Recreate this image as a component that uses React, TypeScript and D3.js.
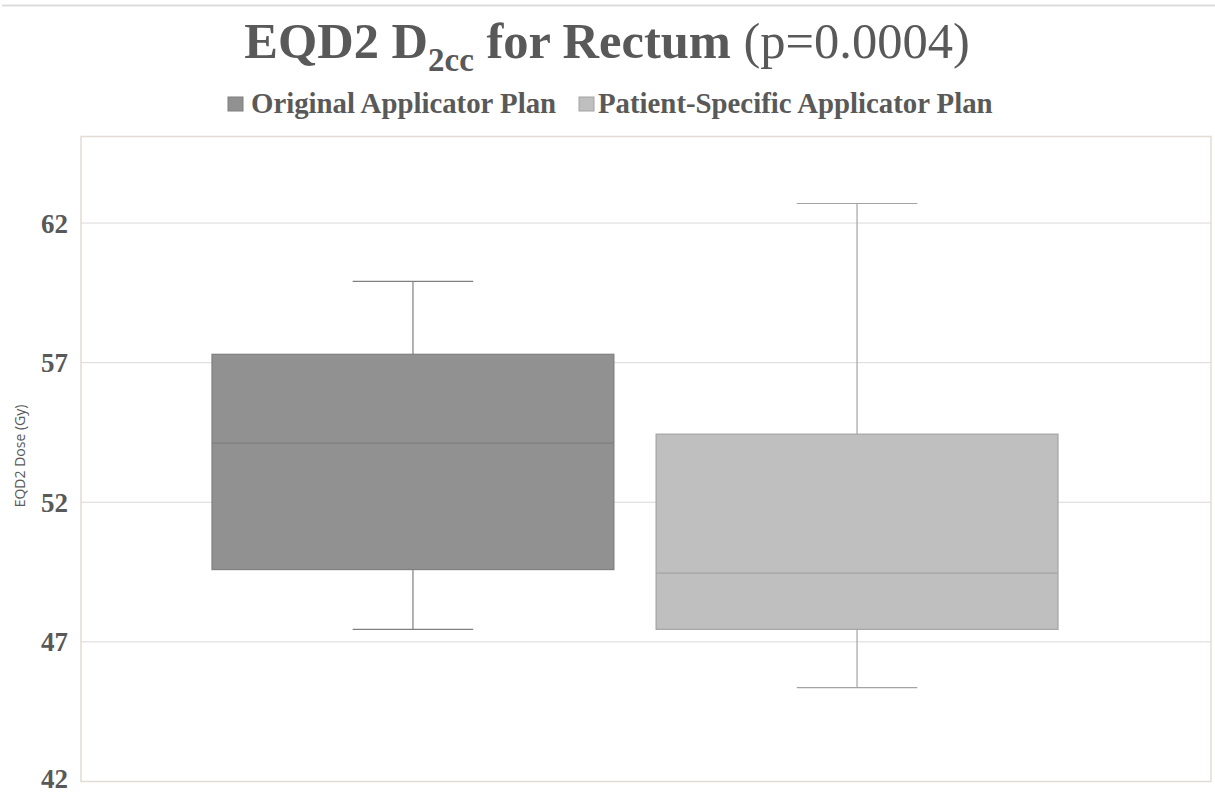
import React from 'react';
import * as d3 from 'd3';

// chart values
const seriesNames = ['Original Applicator Plan', 'Patient-Specific Applicator Plan'];
const whiskerLow = [47.45, 45.36];
const quartile1 = [49.59, 47.45];
const medians = [54.12, 49.46];
const quartile3 = [57.3, 54.44];
const whiskerHigh = [59.91, 62.7];
const yTicks = [42, 47, 52, 57, 62];

const fills = ['#919191', '#bfbfbf'];
const strokes = ['#7f7f7f', '#a3a3a3'];

const W = 1215;
const H = 795;
const serif = '"Liberation Serif", "Times New Roman", serif';

export default function App() {
  // plot area (frame) in page pixels
  const margin = { top: 136.5, right: 4, bottom: 13.5, left: 81 };
  const plotW = W - margin.left - margin.right;
  const plotH = H - margin.top - margin.bottom;

  const y = d3.scaleLinear().domain([42, 65.1]).range([plotH, 0]);

  // both boxes sit in one category, inset from the frame
  const x = d3
    .scaleBand()
    .domain(seriesNames)
    .range([131, plotW - 153])
    .paddingInner(0.095)
    .paddingOuter(0);

  const bw = x.bandwidth();
  const capW = bw * 0.3;

  return (
    <svg
      width={W}
      height={H}
      style={{ position: 'absolute', left: 0, top: 0, background: '#fff' }}
    >
      {/* thin rule along the top */}
      <line x1={2} x2={W} y1={5.5} y2={5.5} stroke="#dcdcdc" strokeWidth={2} />

      {/* title */}
      <text
        x={607}
        y={58}
        textAnchor="middle"
        fontFamily={serif}
        fontSize={50.5}
        fill="#595959"
      >
        <tspan fontWeight="bold">EQD2 D</tspan>
        <tspan fontWeight="bold" fontSize={33} dy={13}>2cc</tspan>
        <tspan fontWeight="bold" dy={-13}> for Rectum</tspan>
        <tspan> (p=0.0004)</tspan>
      </text>

      {/* legend */}
      <g fontFamily={serif} fontSize={28.8} fontWeight="bold" fill="#595959">
        <rect x={228} y={97} width={15} height={14} fill={fills[0]} stroke={strokes[0]} />
        <text x={251} y={113}>{seriesNames[0]}</text>
        <rect x={579} y={97} width={15} height={14} fill={fills[1]} stroke={strokes[1]} />
        <text x={598} y={113}>{seriesNames[1]}</text>
      </g>

      {/* y axis title */}
      <text
        transform={`translate(25,456) rotate(-90)`}
        textAnchor="middle"
        fontFamily='"Open Sans", sans-serif'
        fontSize={14}
        fill="#595959"
      >
        EQD2 Dose (Gy)
      </text>

      <g transform={`translate(${margin.left},${margin.top})`}>
        {/* gridlines */}
        {yTicks.map((t) => (
          <line key={t} x1={0} x2={plotW} y1={y(t)} y2={y(t)} stroke="#d9d9d9" strokeWidth={1} />
        ))}

        {/* tick labels */}
        {yTicks.map((t) => (
          <text
            key={'l' + t}
            x={-13}
            y={Math.min(y(t), plotH - 3)}
            dy="0.35em"
            textAnchor="end"
            fontFamily={serif}
            fontSize={27}
            fontWeight="bold"
            fill="#595959"
          >
            {t}
          </text>
        ))}

        {/* frame */}
        <rect
          x={0}
          y={0}
          width={plotW}
          height={plotH}
          fill="none"
          stroke="#e4dcd4"
          strokeWidth={1.5}
        />

        {/* boxes */}
        {seriesNames.map((s, i) => {
          const x0 = x(s)!;
          const cx = x0 + bw / 2;
          return (
            <g key={s}>
              <line x1={cx} x2={cx} y1={y(whiskerHigh[i])} y2={y(quartile3[i])} stroke={strokes[i]} strokeWidth={1.2} />
              <line x1={cx} x2={cx} y1={y(quartile1[i])} y2={y(whiskerLow[i])} stroke={strokes[i]} strokeWidth={1.2} />
              <line x1={cx - capW / 2} x2={cx + capW / 2} y1={y(whiskerHigh[i])} y2={y(whiskerHigh[i])} stroke={strokes[i]} strokeWidth={1.2} />
              <line x1={cx - capW / 2} x2={cx + capW / 2} y1={y(whiskerLow[i])} y2={y(whiskerLow[i])} stroke={strokes[i]} strokeWidth={1.2} />
              <rect
                x={x0}
                y={y(quartile3[i])}
                width={bw}
                height={y(quartile1[i]) - y(quartile3[i])}
                fill={fills[i]}
                stroke={strokes[i]}
                strokeWidth={1.2}
              />
              <line x1={x0} x2={x0 + bw} y1={y(medians[i])} y2={y(medians[i])} stroke={strokes[i]} strokeWidth={1.2} />
            </g>
          );
        })}
      </g>
    </svg>
  );
}
